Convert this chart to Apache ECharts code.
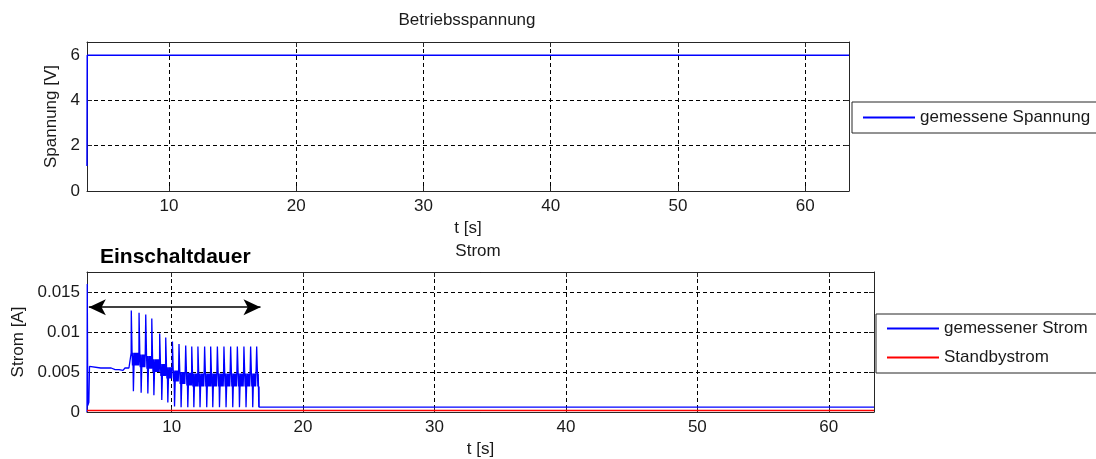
<!DOCTYPE html>
<html>
<head>
<meta charset="utf-8">
<script src="https://cdn.jsdelivr.net/npm/echarts@6/dist/echarts.min.js"></script>
<style>
  html, body { margin: 0; padding: 0; background: #fff; }
  #chart { width: 1096px; height: 459px; }
</style>
</head>
<body>
<div id="chart"></div>
<script>
// ---- measured data -------------------------------------------------------
// operating voltage [V] over time [s]
const voltageT = [3.56, 3.58, 63.44];
const voltageV = [1.1, 6.0, 6.0];

// current before switching starts (inrush and steady holding level)
const preT = [3.56, 3.58, 3.62, 3.70, 3.75, 3.85, 4.60, 5.40, 5.70, 5.85, 6.00, 6.15, 6.30, 6.45, 6.60, 6.75, 6.90];
const preA = [0.0000, 0.0160, 0.0008, 0.0012, 0.0057, 0.0055, 0.0055, 0.0055, 0.0053, 0.0055, 0.0053, 0.0055, 0.0052, 0.0055, 0.0053, 0.0055, 0.0055];

// switching pulses: start time, spike peak, dip, upper/lower edge of the ripple band [A]
const pulseT    = [6.92, 7.51, 8.02, 8.48, 9.08, 9.54, 10.05, 10.55, 11.06, 11.52, 11.99, 12.50, 12.96, 13.47, 13.97, 14.48, 14.99, 15.49, 16.00, 16.46];
const pulsePeak = [0.0127, 0.0124, 0.0122, 0.0117, 0.0098, 0.0093, 0.0088, 0.0085, 0.0083, 0.0082, 0.0082, 0.0082, 0.0082, 0.0082, 0.0082, 0.0082, 0.0082, 0.0082, 0.0082, 0.0082];
const pulseDip  = [0.0026, 0.0024, 0.0023, 0.0021, 0.0015, 0.0012, 0.0007, 0.0006, 0.0006, 0.0006, 0.0006, 0.0006, 0.0006, 0.0006, 0.0006, 0.0006, 0.0006, 0.0006, 0.0006, 0.0006];
const bandHigh  = [0.0074, 0.0072, 0.0070, 0.0066, 0.0060, 0.0056, 0.0052, 0.0050, 0.0049, 0.0048, 0.0048, 0.0048, 0.0048, 0.0048, 0.0048, 0.0048, 0.0048, 0.0048, 0.0048, 0.0048];
const bandLow   = [0.0058, 0.0056, 0.0054, 0.0050, 0.0045, 0.0042, 0.0038, 0.0035, 0.0033, 0.0032, 0.0032, 0.0032, 0.0032, 0.0032, 0.0032, 0.0032, 0.0032, 0.0032, 0.0032, 0.0032];
const pulseEnd  = 16.65;

// current after switching stops
const tailT = [16.66, 63.44];
const tailA = [0.0006, 0.0006];

// standby current [A]
const standbyT = [3.56, 63.44];
const standbyA = [0.0002, 0.0002];

// on-duration marker (arrow) [s]
const onStart = 3.70;
const onEnd = 16.76;
const onLevel = 0.0131;

// axis ranges and tick spacing
const T_MIN = 3.56, T_MAX = 63.44;
const V_MAX = 6.58, V_STEP = 2;
const A_MAX = 0.0175, A_STEP = 0.005;

// ---- assemble series ------------------------------------------------------
const zip = (xs, ys) => xs.map((x, i) => [x, ys[i]]);

function currentTrace() {
  const pts = zip(preT, preA);
  for (let k = 0; k < pulseT.length; k++) {
    const t0 = pulseT[k];
    const tNext = k + 1 < pulseT.length ? pulseT[k + 1] : pulseEnd;
    pts.push([t0, bandHigh[k]]);
    pts.push([t0 + 0.01, pulsePeak[k]]);
    pts.push([t0 + 0.06, pulsePeak[k]]);
    pts.push([t0 + 0.07, bandHigh[k]]);
    pts.push([t0 + 0.10, bandLow[k]]);
    pts.push([t0 + 0.13, bandHigh[k]]);
    pts.push([t0 + 0.17, pulseDip[k]]);
    pts.push([t0 + 0.21, pulseDip[k]]);
    let up = true;
    for (let t = t0 + 0.24; t < tNext - 0.01; t += 0.03) {
      pts.push([t, up ? bandHigh[k] : bandLow[k]]);
      up = !up;
    }
  }
  pts.push([pulseEnd, bandLow[pulseT.length - 1]]);
  return pts.concat(zip(tailT, tailA));
}

// ---- styling ---------------------------------------------------------------
const FONT = '"Liberation Sans", Arial, sans-serif';
const INK = '#1a1a1a';
const FRAME = '#262626';
const BLUE = '#0000ff';
const RED = '#ff0000';
const FS = 17;

const grid = [
  { left: 87, top: 42, width: 762, height: 149 },
  { left: 87, top: 272, width: 787, height: 140 }
];

const tickStyle = { show: true, inside: true, length: 5, lineStyle: { color: FRAME, width: 1 } };
const lineStyle = { show: true, onZero: false, lineStyle: { color: FRAME, width: 1 } };
const gridLines = { show: true, lineStyle: { color: '#000', width: 1, type: [4, 3] } };
const labelStyle = { fontFamily: FONT, fontSize: FS, color: INK };

function timeAxis(gridIndex) {
  return {
    type: 'value', gridIndex, position: 'bottom', min: T_MIN, max: T_MAX,
    name: 't [s]', nameLocation: 'middle', nameGap: 29,
    nameTextStyle: labelStyle,
    axisLine: lineStyle, axisTick: tickStyle, splitLine: gridLines,
    axisLabel: Object.assign({ margin: 7, showMinLabel: false, showMaxLabel: false }, labelStyle)
  };
}
function timeMirror(gridIndex) {
  return {
    type: 'value', gridIndex, position: 'top', min: T_MIN, max: T_MAX,
    axisLine: lineStyle, axisTick: tickStyle, splitLine: { show: false }, axisLabel: { show: false }
  };
}
function valueAxis(gridIndex, max, step, name, nameGap) {
  return {
    type: 'value', gridIndex, position: 'left', min: 0, max, interval: step,
    name, nameLocation: 'middle', nameGap, nameTextStyle: labelStyle,
    axisLine: lineStyle, axisTick: tickStyle, splitLine: gridLines,
    axisLabel: Object.assign({ margin: 7, showMaxLabel: false }, labelStyle)
  };
}
function valueMirror(gridIndex, max, step) {
  return {
    type: 'value', gridIndex, position: 'right', min: 0, max, interval: step,
    axisLine: lineStyle, axisTick: tickStyle, splitLine: { show: false }, axisLabel: { show: false }
  };
}

// legend entries show only the line sample; the marker symbol is hidden
const legendBase = {
  orient: 'vertical', itemWidth: 52, itemHeight: 14, itemGap: 12,
  borderColor: FRAME, borderWidth: 1, borderRadius: 0, backgroundColor: '#fff',
  itemStyle: { opacity: 0 },
  textStyle: { fontFamily: FONT, fontSize: FS, color: INK },
  selectedMode: false
};

const option = {
  animation: false,
  backgroundColor: '#fff',
  grid,
  xAxis: [timeAxis(0), timeMirror(0), timeAxis(1), timeMirror(1)],
  yAxis: [
    valueAxis(0, V_MAX, V_STEP, 'Spannung [V]', 27),
    valueMirror(0, V_MAX, V_STEP),
    valueAxis(1, A_MAX, A_STEP, 'Strom [A]', 59),
    valueMirror(1, A_MAX, A_STEP)
  ],
  legend: [
    Object.assign({}, legendBase, {
      data: ['gemessene Spannung'],
      left: 852, top: 102, padding: [7, 12, 7, 10]
    }),
    Object.assign({}, legendBase, {
      data: ['gemessener Strom', 'Standbystrom'],
      left: 876, top: 314, padding: [6, 14, 7, 10]
    })
  ],
  graphic: [
    { type: 'text', x: 467, y: 20, style: { text: 'Betriebsspannung', font: `${FS}px ${FONT}`, fill: INK, textAlign: 'center', textVerticalAlign: 'middle' } },
    { type: 'text', x: 478, y: 251, style: { text: 'Strom', font: `${FS}px ${FONT}`, fill: INK, textAlign: 'center', textVerticalAlign: 'middle' } },
    { type: 'text', x: 100, y: 257, style: { text: 'Einschaltdauer', font: `bold 21px ${FONT}`, fill: '#000', textAlign: 'left', textVerticalAlign: 'middle' } }
  ],
  series: [
    {
      name: 'gemessene Spannung', type: 'line', xAxisIndex: 0, yAxisIndex: 0,
      data: zip(voltageT, voltageV), symbol: 'none', showSymbol: false,
      color: BLUE,
      lineStyle: { color: BLUE, width: 1.5 }, itemStyle: { color: BLUE }
    },
    {
      name: 'gemessener Strom', type: 'line', xAxisIndex: 2, yAxisIndex: 2,
      data: currentTrace(), symbol: 'none', showSymbol: false,
      color: BLUE,
      lineStyle: { color: BLUE, width: 1.3 }, itemStyle: { color: BLUE },
      markLine: {
        silent: true, symbol: ['arrow', 'arrow'], symbolSize: [12, 17],
        label: { show: false },
        lineStyle: { color: '#000', width: 1.5, type: 'solid' },
        data: [[{ coord: [onStart, onLevel] }, { coord: [onEnd, onLevel] }]]
      }
    },
    {
      name: 'Standbystrom', type: 'line', xAxisIndex: 2, yAxisIndex: 2,
      data: zip(standbyT, standbyA), symbol: 'none', showSymbol: false,
      color: RED,
      lineStyle: { color: RED, width: 1.5 }, itemStyle: { color: RED }
    }
  ]
};

const chart = echarts.init(document.getElementById('chart'), null, { renderer: 'canvas' });
chart.setOption(option);
</script>
</body>
</html>
